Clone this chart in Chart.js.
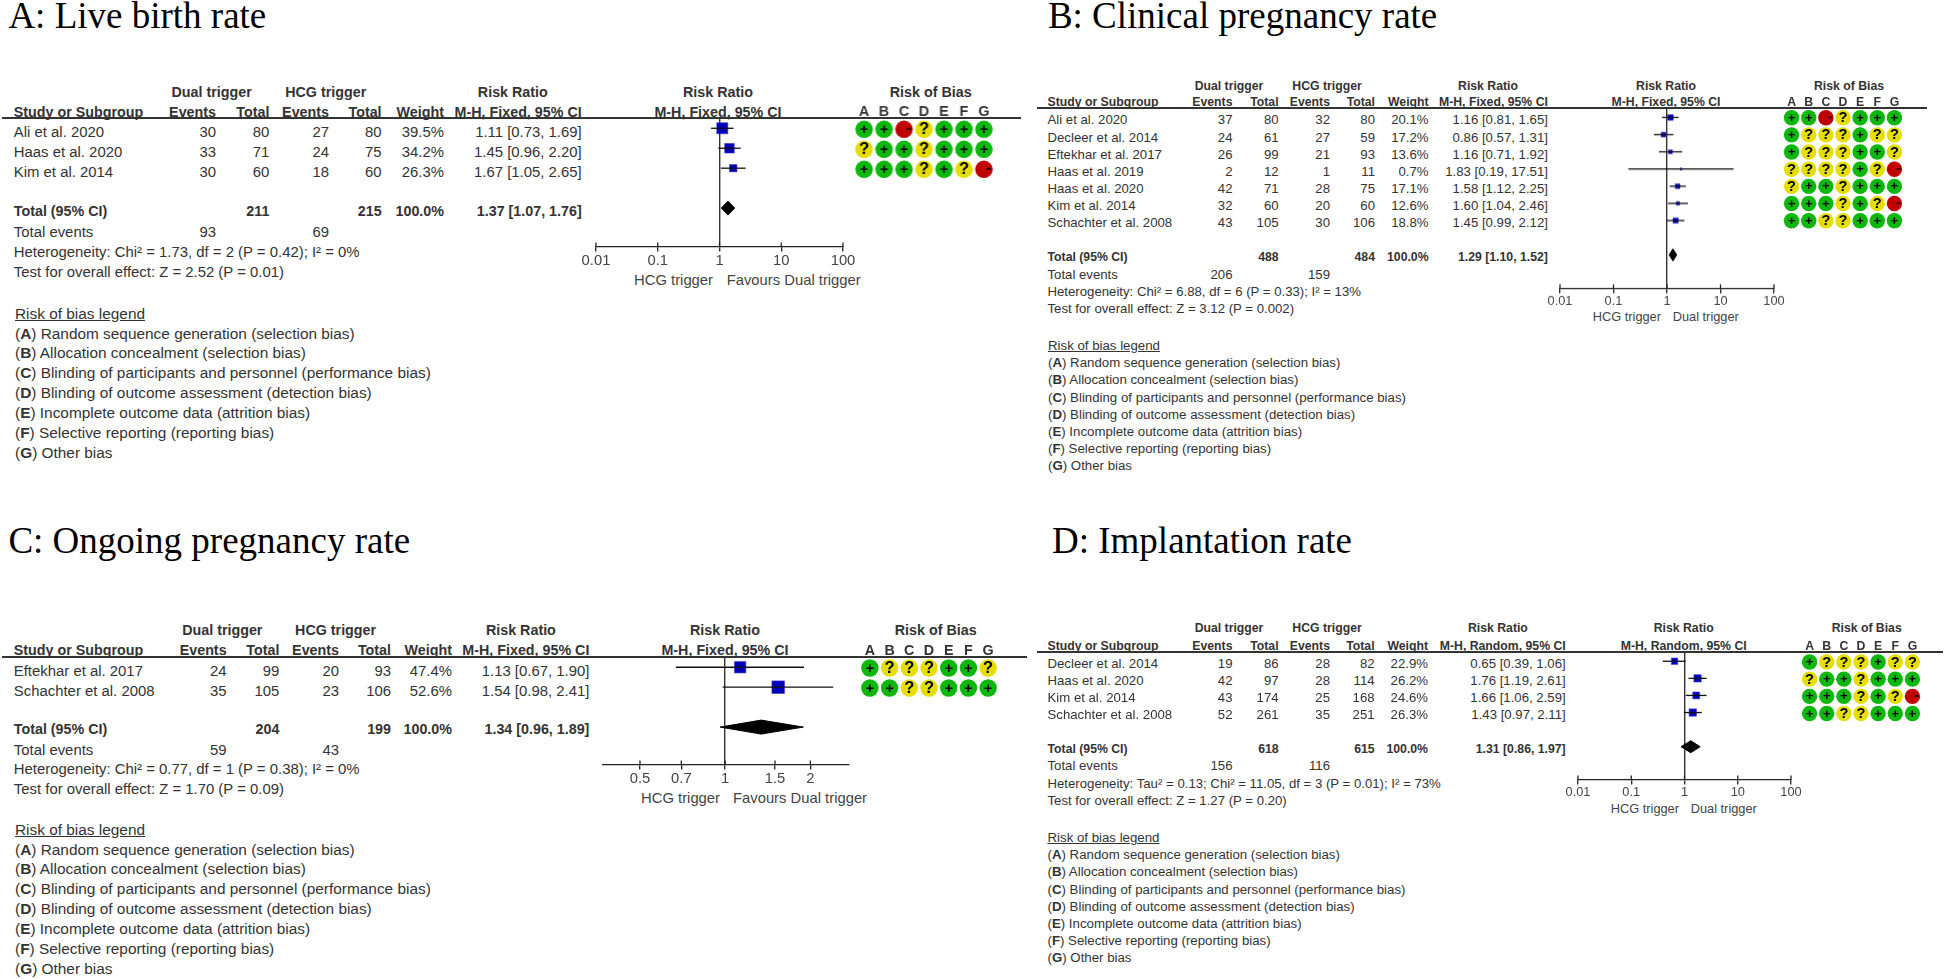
<!DOCTYPE html>
<html>
<head>
<meta charset="utf-8">
<title>Forest plots</title>
<script src="https://cdn.jsdelivr.net/npm/chart.js@4/dist/chart.umd.js"></script>
<style>
  html, body { margin: 0; padding: 0; background: #fff; }
  #page { position: relative; width: 1946px; height: 979px; overflow: hidden; }
  #page span.t { position: absolute; line-height: 0; white-space: nowrap; color: #333; font-family: "Liberation Sans", Arial, sans-serif; }
  #page canvas { position: absolute; }
  #page div.rule { position: absolute; height: 2px; background: #333; }
</style>
</head>
<body>
<div id="page"></div>
<script>
// panel A: live birth rate
const studiesA = ['Ali et al. 2020', 'Haas et al. 2020', 'Kim et al. 2014']
const eventsDualA = [30, 33, 30]
const totalDualA = [80, 71, 60]
const eventsHcgA = [27, 24, 18]
const totalHcgA = [80, 75, 60]
const weightA = [39.5, 34.2, 26.3]
const rrA = [1.11, 1.45, 1.67]
const loA = [0.73, 0.96, 1.05]
const hiA = [1.69, 2.20, 2.65]
const robA = ['++-?+++', '?++?+++', '+++?+?-']
const overallA = [1.37, 1.07, 1.76]
const sumTotalsA = [211, 215]
const sumEventsA = [93, 69]
const statsA = ['Heterogeneity: Chi² = 1.73, df = 2 (P = 0.42); I² = 0%', 'Test for overall effect: Z = 2.52 (P = 0.01)']

// panel B: clinical pregnancy rate
const studiesB = ['Ali et al. 2020', 'Decleer et al. 2014', 'Eftekhar et al. 2017', 'Haas et al. 2019', 'Haas et al. 2020', 'Kim et al. 2014', 'Schachter et al. 2008']
const eventsDualB = [37, 24, 26, 2, 42, 32, 43]
const totalDualB = [80, 61, 99, 12, 71, 60, 105]
const eventsHcgB = [32, 27, 21, 1, 28, 20, 30]
const totalHcgB = [80, 59, 93, 11, 75, 60, 106]
const weightB = [20.1, 17.2, 13.6, 0.7, 17.1, 12.6, 18.8]
const rrB = [1.16, 0.86, 1.16, 1.83, 1.58, 1.60, 1.45]
const loB = [0.81, 0.57, 0.71, 0.19, 1.12, 1.04, 0.99]
const hiB = [1.65, 1.31, 1.92, 17.51, 2.25, 2.46, 2.12]
const robB = ['++-?+++', '+???+??', '+???++?', '????+?-', '?++?+++', '+++?+?-', '++??+++']
const overallB = [1.29, 1.10, 1.52]
const sumTotalsB = [488, 484]
const sumEventsB = [206, 159]
const statsB = ['Heterogeneity: Chi² = 6.88, df = 6 (P = 0.33); I² = 13%', 'Test for overall effect: Z = 3.12 (P = 0.002)']

// panel C: ongoing pregnancy rate
const studiesC = ['Eftekhar et al. 2017', 'Schachter et al. 2008']
const eventsDualC = [24, 35]
const totalDualC = [99, 105]
const eventsHcgC = [20, 23]
const totalHcgC = [93, 106]
const weightC = [47.4, 52.6]
const rrC = [1.13, 1.54]
const loC = [0.67, 0.98]
const hiC = [1.90, 2.41]
const robC = ['+???++?', '++??+++']
const overallC = [1.34, 0.96, 1.89]
const sumTotalsC = [204, 199]
const sumEventsC = [59, 43]
const statsC = ['Heterogeneity: Chi² = 0.77, df = 1 (P = 0.38); I² = 0%', 'Test for overall effect: Z = 1.70 (P = 0.09)']

// panel D: implantation rate
const studiesD = ['Decleer et al. 2014', 'Haas et al. 2020', 'Kim et al. 2014', 'Schachter et al. 2008']
const eventsDualD = [19, 42, 43, 52]
const totalDualD = [86, 97, 174, 261]
const eventsHcgD = [28, 28, 25, 35]
const totalHcgD = [82, 114, 168, 251]
const weightD = [22.9, 26.2, 24.6, 26.3]
const rrD = [0.65, 1.76, 1.66, 1.43]
const loD = [0.39, 1.19, 1.06, 0.97]
const hiD = [1.06, 2.61, 2.59, 2.11]
const robD = ['+???+??', '?++?+++', '+++?+?-', '++??+++']
const overallD = [1.31, 0.86, 1.97]
const sumTotalsD = [618, 615]
const sumEventsD = [156, 116]
const statsD = ['Heterogeneity: Tau² = 0.13; Chi² = 11.05, df = 3 (P = 0.01); I² = 73%', 'Test for overall effect: Z = 1.27 (P = 0.20)']

const logTicks = [0.01, 0.1, 1, 10, 100]
const zoomTicks = [0.5, 0.7, 1, 1.5, 2]
const robLetters = ['A', 'B', 'C', 'D', 'E', 'F', 'G']
const legendItems = ['Random sequence generation (selection bias)', 'Allocation concealment (selection bias)', 'Blinding of participants and personnel (performance bias)', 'Blinding of outcome assessment (detection bias)', 'Incomplete outcome data (attrition bias)', 'Selective reporting (reporting bias)', 'Other bias']

const robColors = { '+': '#0cb80c', '?': '#e6de00', '-': '#c00000' }

// font sizes of the large (A, C) and small (B, D) panels
const bigFonts = { body: 14.9, bold: 14.3, legend: 15.4, tick: 14.8 }
const smallFonts = { body: 13.2, bold: 12.25, legend: 13.26, tick: 12.8 }

const panels = [
  {
    title: 'A: Live birth rate', titleX: 8.4, titleY: 29,
    studies: studiesA, evD: eventsDualA, toD: totalDualA, evH: eventsHcgA, toH: totalHcgA,
    weight: weightA, rr: rrA, lo: loA, hi: hiA, rob: robA, overall: overallA, totals: sumTotalsA, events: sumEventsA, stats: statsA,
    method: 'M-H, Fixed, 95% CI', left: 'HCG trigger', right: 'Favours Dual trigger',
    fonts: bigFonts, ruleY: 118, ruleX0: 1.5, ruleX1: 1021, rowH: 20,
    cols: [13.8, 216, 269.4, 329, 381.6, 444, 581.7], groups: [211.6, 325.7, 512.8],
    head1: 96.7, head2: 116.7, row0: 137.3, total: 216, sumEv: 236.7, stat0: 256.7,
    plotX0: 595.7, plotX1: 843, min: 0.01, max: 100, ticks: logTicks, axisY: 247.3, row0Y: 128.3, labelY: 285, leftEnd: 713, rightStart: 726.7, plotHead: 718,
    boxK: 0.28,
    robA: 864, robG: 983.7, robR: 8.7, robTop: 129.3, robHead: 930.7, letterPad: -2.7,
    legendX: 15, legendY: 319, legendH: 19.85
  },
  {
    title: 'B: Clinical pregnancy rate', titleX: 1047.9, titleY: 29,
    studies: studiesB, evD: eventsDualB, toD: totalDualB, evH: eventsHcgB, toH: totalHcgB,
    weight: weightB, rr: rrB, lo: loB, hi: hiB, rob: robB, overall: overallB, totals: sumTotalsB, events: sumEventsB, stats: statsB,
    method: 'M-H, Fixed, 95% CI', left: 'HCG trigger', right: 'Dual trigger',
    fonts: smallFonts, ruleY: 108.3, ruleX0: 1037, ruleX1: 1926.7, rowH: 17.17,
    cols: [1047.5, 1232.5, 1278.6, 1330, 1375, 1428.6, 1547.9], groups: [1229, 1327, 1488],
    head1: 90, head2: 106.7, row0: 125, total: 261.7, sumEv: 279.3, stat0: 296.7,
    plotX0: 1560, plotX1: 1774, min: 0.01, max: 100, ticks: logTicks, axisY: 289, row0Y: 117.7, labelY: 321.7, leftEnd: 1661, rightStart: 1672.7, plotHead: 1666,
    boxK: 0.28,
    robA: 1791.7, robG: 1894.7, robR: 7.7, robTop: 118, robHead: 1849, letterPad: -2.25,
    legendX: 1048, legendY: 350.7, legendH: 17.17
  },
  {
    title: 'C: Ongoing pregnancy rate', titleX: 8.4, titleY: 553.7,
    studies: studiesC, evD: eventsDualC, toD: totalDualC, evH: eventsHcgC, toH: totalHcgC,
    weight: weightC, rr: rrC, lo: loC, hi: hiC, rob: robC, overall: overallC, totals: sumTotalsC, events: sumEventsC, stats: statsC,
    method: 'M-H, Fixed, 95% CI', left: 'HCG trigger', right: 'Favours Dual trigger',
    fonts: bigFonts, ruleY: 656.7, ruleX0: 1.5, ruleX1: 1027, rowH: 20,
    cols: [13.8, 226.6, 279.4, 339, 391, 452, 589.4], groups: [222.3, 335.6, 520.9],
    head1: 635, head2: 655, row0: 675.7, total: 734, sumEv: 755, stat0: 774.5,
    plotX0: 602.7, plotX1: 849.3, min: 0.37, max: 2.74, ticks: zoomTicks, axisY: 765, row0Y: 667, labelY: 803, leftEnd: 720, rightStart: 733, plotHead: 725,
    boxK: 0.24,
    robA: 869.7, robG: 988, robR: 8.7, robTop: 667.7, robHead: 935.7, letterPad: -2.7,
    legendX: 15, legendY: 835, legendH: 19.85
  },
  {
    title: 'D: Implantation rate', titleX: 1052, titleY: 553.7,
    studies: studiesD, evD: eventsDualD, toD: totalDualD, evH: eventsHcgD, toH: totalHcgD,
    weight: weightD, rr: rrD, lo: loD, hi: hiD, rob: robD, overall: overallD, totals: sumTotalsD, events: sumEventsD, stats: statsD,
    method: 'M-H, Random, 95% CI', left: 'HCG trigger', right: 'Dual trigger',
    fonts: smallFonts, ruleY: 651.7, ruleX0: 1037, ruleX1: 1943, rowH: 17.17,
    cols: [1047.5, 1232.5, 1278.6, 1330, 1374.6, 1428, 1565.7], groups: [1229, 1327, 1497.9],
    head1: 632.7, head2: 650, row0: 668.3, total: 753.3, sumEv: 771, stat0: 788.3,
    plotX0: 1577.7, plotX1: 1791.3, min: 0.01, max: 100, ticks: logTicks, axisY: 780.3, row0Y: 661, labelY: 813.3, leftEnd: 1679, rightStart: 1690.7, plotHead: 1683.7,
    boxK: 0.28,
    robA: 1809.3, robG: 1912.3, robR: 7.7, robTop: 661.7, robHead: 1866.7, letterPad: -2.25,
    legendX: 1047.5, legendY: 842.6, legendH: 17.17
  }
]

const page = document.getElementById('page')

// baseline-positioned text, line-height 0 puts the baseline at top + 0.3465em
function put(text, x, y, size, opts) {
  opts = opts || {}
  const el = document.createElement('span')
  el.className = 't'
  if (opts.html) el.innerHTML = text
  else el.textContent = text
  el.style.left = x + 'px'
  el.style.top = (y - 0.3465 * size) + 'px'
  el.style.fontSize = size + 'px'
  if (opts.bold) el.style.fontWeight = 'bold'
  if (opts.underline) el.style.textDecoration = 'underline'
  if (opts.align === 'right') el.style.transform = 'translateX(-100%)'
  if (opts.align === 'center') el.style.transform = 'translateX(-50%)'
  if (opts.family) el.style.fontFamily = opts.family
  if (opts.color) el.style.color = opts.color
  page.appendChild(el)
}

function addCanvas(x, y, w, h) {
  const c = document.createElement('canvas')
  c.width = w
  c.height = h
  c.style.left = x + 'px'
  c.style.top = y + 'px'
  c.style.width = w + 'px'
  c.style.height = h + 'px'
  page.appendChild(c)
  return c
}

function drawTable(p) {
  const f = p.fonts.body
  const b = p.fonts.bold
  const c = p.cols
  put(p.title, p.titleX, p.titleY, 37, { family: '"Liberation Serif", serif', color: '#000' })

  put('Dual trigger', p.groups[0], p.head1, b, { bold: true, align: 'center' })
  put('HCG trigger', p.groups[1], p.head1, b, { bold: true, align: 'center' })
  put('Risk Ratio', p.groups[2], p.head1, b, { bold: true, align: 'center' })
  put('Risk Ratio', p.plotHead, p.head1, b, { bold: true, align: 'center' })
  put('Risk of Bias', p.robHead, p.head1, b, { bold: true, align: 'center' })
  put('Study or Subgroup', c[0], p.head2, b, { bold: true })
  const heads = ['Events', 'Total', 'Events', 'Total', 'Weight', p.method]
  heads.forEach((h, i) => put(h, c[i + 1], p.head2, b, { bold: true, align: 'right' }))
  put(p.method, p.plotHead, p.head2, b, { bold: true, align: 'center' })

  const rule = document.createElement('div')
  rule.className = 'rule'
  rule.style.left = p.ruleX0 + 'px'
  rule.style.top = (p.ruleY - 1) + 'px'
  rule.style.width = (p.ruleX1 - p.ruleX0) + 'px'
  page.appendChild(rule)

  p.studies.forEach((s, i) => {
    const y = p.row0 + i * p.rowH
    put(s, c[0], y, f)
    put(p.evD[i], c[1], y, f, { align: 'right' })
    put(p.toD[i], c[2], y, f, { align: 'right' })
    put(p.evH[i], c[3], y, f, { align: 'right' })
    put(p.toH[i], c[4], y, f, { align: 'right' })
    put(p.weight[i].toFixed(1) + '%', c[5], y, f, { align: 'right' })
    put(p.rr[i].toFixed(2) + ' [' + p.lo[i].toFixed(2) + ', ' + p.hi[i].toFixed(2) + ']', c[6], y, f, { align: 'right' })
  })

  put('Total (95% CI)', c[0], p.total, b, { bold: true })
  put(p.totals[0], c[2], p.total, b, { bold: true, align: 'right' })
  put(p.totals[1], c[4], p.total, b, { bold: true, align: 'right' })
  put('100.0%', c[5], p.total, b, { bold: true, align: 'right' })
  const o = p.overall
  put(o[0].toFixed(2) + ' [' + o[1].toFixed(2) + ', ' + o[2].toFixed(2) + ']', c[6], p.total, b, { bold: true, align: 'right' })

  put('Total events', c[0], p.sumEv, f)
  put(p.events[0], c[1], p.sumEv, f, { align: 'right' })
  put(p.events[1], c[3], p.sumEv, f, { align: 'right' })
  p.stats.forEach((s, i) => put(s, c[0], p.stat0 + i * p.rowH, f))

  put(p.left, p.leftEnd, p.labelY, p.fonts.tick, { align: 'right', color: '#444' })
  put(p.right, p.rightStart, p.labelY, p.fonts.tick, { color: '#444' })

  const lf = p.fonts.legend
  put('Risk of bias legend', p.legendX, p.legendY, lf, { underline: true })
  legendItems.forEach((item, i) => {
    put('(<b>' + robLetters[i] + '</b>) ' + item, p.legendX, p.legendY + (i + 1) * p.legendH, lf, { html: true })
  })
}

// ticks in these plots cross the axis, chart.js only draws the lower half
const upperTicks = {
  id: 'upperTicks',
  afterDraw(chart) {
    const x = chart.scales.x
    const ctx = chart.ctx
    ctx.save()
    ctx.strokeStyle = '#222'
    ctx.lineWidth = 1.3
    x.ticks.forEach(t => {
      const px = x.getPixelForValue(t.value)
      ctx.beginPath()
      ctx.moveTo(px, x.top)
      ctx.lineTo(px, x.top - 4.5)
      ctx.stroke()
    })
    ctx.restore()
  }
}

function drawForest(p) {
  const pad = 60
  const above = 12 // room for the half label height chart.js reserves over the area
  const below = 40
  const canvas = addCanvas(p.plotX0 - pad, p.ruleY - above, p.plotX1 - p.plotX0 + 2 * pad, p.axisY - p.ruleY + above + below)
  const n = p.studies.length
  const datasets = []

  p.studies.forEach((s, i) => {
    datasets.push({
      label: s,
      data: [{ x: p.lo[i], y: i }, { x: p.hi[i], y: i }],
      showLine: true,
      borderColor: '#111',
      borderWidth: 1.3,
      pointRadius: 0
    })
  })
  datasets.push({
    label: 'Study estimate',
    data: p.rr.map((v, i) => ({ x: v, y: i })),
    pointStyle: 'rect',
    // box side grows with the study weight
    pointRadius: p.weight.map(w => Math.max(p.boxK * w, 2) / Math.SQRT2),
    backgroundColor: '#0000bb',
    borderColor: '#3a3ad0',
    borderWidth: 0.6
  })
  const o = p.overall
  const dh = 0.35
  datasets.push({
    label: 'Overall',
    data: [{ x: o[1], y: n + 1 }, { x: o[0], y: n + 1 - dh }, { x: o[2], y: n + 1 }, { x: o[0], y: n + 1 + dh }, { x: o[1], y: n + 1 }],
    showLine: true,
    fill: 'shape',
    backgroundColor: '#000',
    borderColor: '#000',
    borderWidth: 1,
    pointRadius: 0
  })

  new Chart(canvas, {
    type: 'scatter',
    data: { datasets: datasets },
    plugins: [upperTicks],
    options: {
      responsive: false,
      animation: false,
      layout: { padding: { left: pad, right: pad, top: above, bottom: 0 } },
      plugins: { legend: { display: false }, tooltip: { enabled: false } },
      scales: {
        x: {
          type: 'logarithmic',
          min: p.min,
          max: p.max,
          afterBuildTicks(scale) { scale.ticks = p.ticks.map(v => ({ value: v })) },
          afterFit(scale) { scale.height = below },
          border: { display: true, color: '#222', width: 1.3 },
          grid: {
            drawOnChartArea: true,
            color: ctx => (ctx.tick && ctx.tick.value === 1 ? '#333' : 'rgba(0,0,0,0)'),
            lineWidth: 1.4,
            tickColor: '#222',
            tickWidth: 1.3,
            tickLength: 4.5
          },
          ticks: {
            autoSkip: false,
            maxRotation: 0,
            padding: 0.5,
            color: '#444',
            font: { family: '"Liberation Sans"', size: p.fonts.tick },
            callback: v => String(v)
          }
        },
        y: {
          type: 'linear',
          display: false,
          reverse: true,
          min: (p.ruleY - p.row0Y) / p.rowH,
          max: (p.axisY - p.row0Y) / p.rowH
        }
      }
    }
  })
}

// + ? - marks on top of the judgement circles
const robGlyphs = {
  id: 'robGlyphs',
  afterDatasetsDraw(chart) {
    const ctx = chart.ctx
    const r = chart.options.plugins.robGlyphs.radius
    ctx.save()
    ctx.fillStyle = '#000'
    ctx.textAlign = 'center'
    ctx.textBaseline = 'middle'
    chart.data.datasets.forEach((ds, k) => {
      chart.getDatasetMeta(k).data.forEach(pt => {
        if (ds.label === '-') {
          ctx.fillRect(pt.x + r * 0.3, pt.y - 1, r * 0.5, 1.4)
        } else {
          ctx.font = 'bold ' + (r * (ds.label === '?' ? 1.9 : 1.7)) + 'px "Liberation Sans"'
          ctx.fillText(ds.label, pt.x, pt.y + 0.5)
        }
      })
    })
    ctx.restore()
  }
}

function drawRob(p) {
  const sp = (p.robG - p.robA) / 6
  const above = 20
  const side = 20
  const under = 12
  const h = Math.ceil(p.rob.length * p.rowH + 20)
  const canvas = addCanvas(p.robA - sp / 2 - side, p.ruleY - above, 7 * sp + 2 * side, above + h + under)
  const datasets = ['+', '?', '-'].map(j => {
    const pts = []
    p.rob.forEach((row, i) => {
      row.split('').forEach((v, c) => {
        if (v === j) pts.push({ x: robLetters[c], y: i })
      })
    })
    return {
      label: j,
      data: pts,
      clip: false,
      pointStyle: 'circle',
      pointRadius: p.robR,
      backgroundColor: robColors[j],
      borderColor: robColors[j],
      borderWidth: 0
    }
  })

  new Chart(canvas, {
    type: 'scatter',
    data: { labels: robLetters, datasets: datasets },
    plugins: [robGlyphs],
    options: {
      responsive: false,
      animation: false,
      layout: { padding: { left: side, right: side, top: 0, bottom: under } },
      plugins: { legend: { display: false }, tooltip: { enabled: false }, robGlyphs: { radius: p.robR } },
      scales: {
        x: {
          type: 'category',
          position: 'top',
          offset: true,
          afterFit(scale) { scale.height = above },
          border: { display: false },
          grid: { display: false, drawTicks: false },
          ticks: {
            autoSkip: false,
            maxRotation: 0,
            padding: p.letterPad,
            color: '#333',
            font: { family: '"Liberation Sans"', size: p.fonts.bold, weight: 'bold' }
          }
        },
        y: {
          type: 'linear',
          display: false,
          reverse: true,
          min: (p.ruleY - p.robTop) / p.rowH,
          max: (p.ruleY + h - p.robTop) / p.rowH
        }
      }
    }
  })
}

panels.forEach(p => {
  drawTable(p)
  drawForest(p)
  drawRob(p)
})
</script>
</body>
</html>
